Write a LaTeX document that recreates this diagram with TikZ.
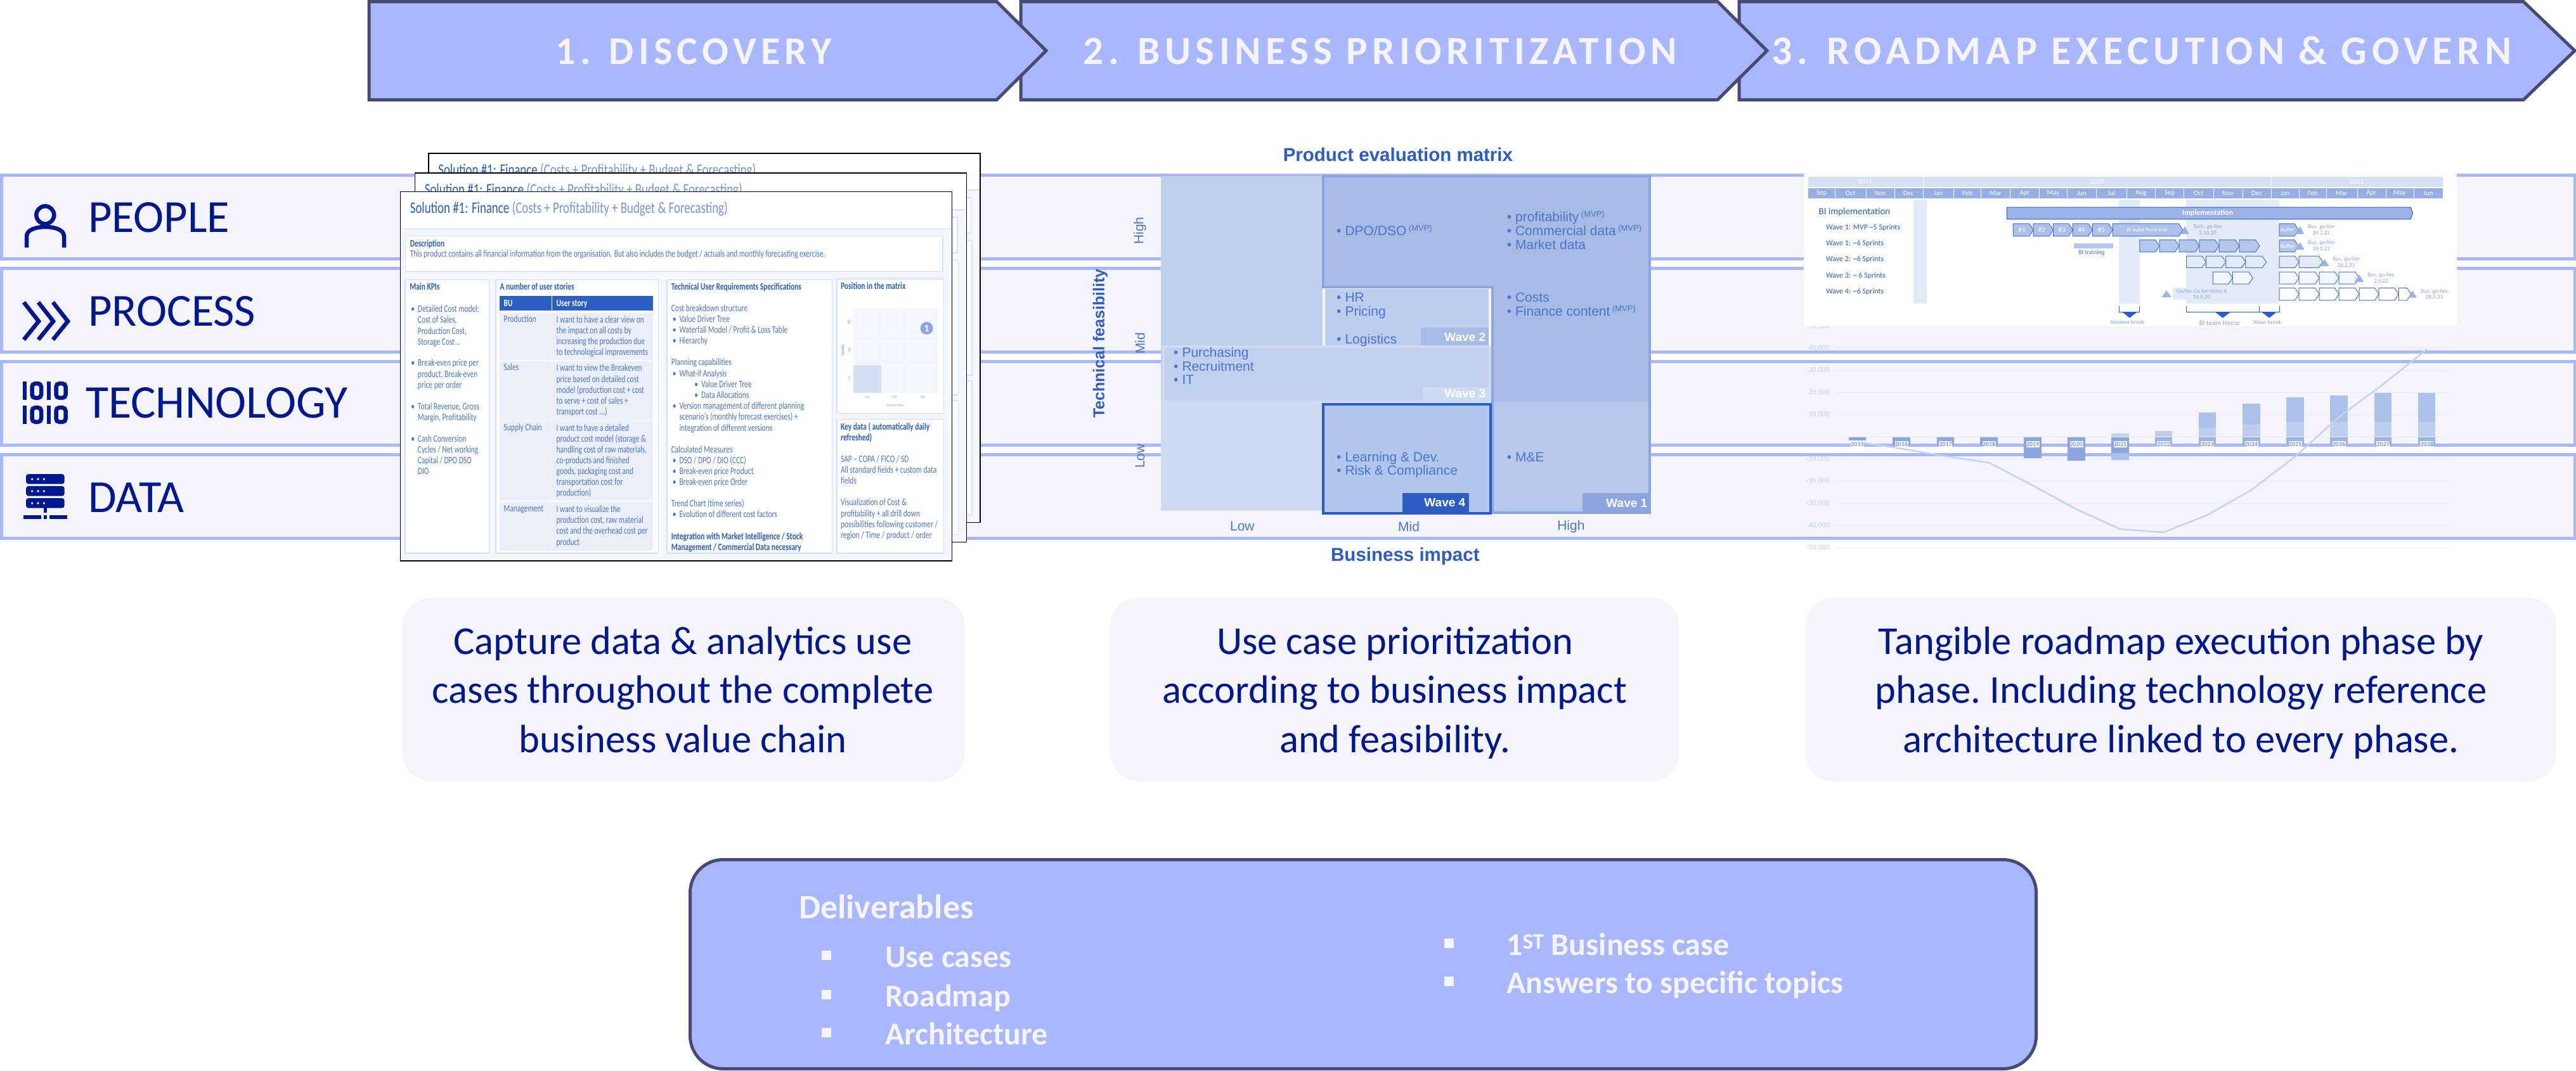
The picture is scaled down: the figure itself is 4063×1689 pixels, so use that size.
\documentclass[tikz,border=0pt]{standalone}
\usepackage{fontspec}
\setmainfont{Carlito}
\newfontfamily\arialfont{Liberation Sans}
\newfontfamily\docfont[FakeStretch=0.74]{Carlito}
\newfontfamily\stepfont[LetterSpace=12]{Carlito}

\definecolor{navy}{HTML}{00188F}
\definecolor{bandline}{HTML}{A9B7FF}
\definecolor{bandfill}{HTML}{F4F4FA}
\definecolor{slate}{HTML}{474B72}
\definecolor{royal}{HTML}{2B5DC5}
\definecolor{midblue}{HTML}{4A75CC}
\definecolor{softblue}{HTML}{8AA5E0}
\definecolor{pale}{HTML}{C4D3F0}
\definecolor{tint}{HTML}{E3EAF8}
\definecolor{docbody}{HTML}{F4F6FD}
\definecolor{docrule}{HTML}{D6E0F5}
\definecolor{cellupper}{HTML}{BFD0EE}
\definecolor{celllower}{HTML}{CEDAF2}
\definecolor{waveone}{HTML}{A7BBE5}
\definecolor{waveonelow}{HTML}{B7C8EC}
\definecolor{wavetwo}{HTML}{BCCDEE}
\definecolor{wavethree}{HTML}{C0D0EE}
\definecolor{wavethreeline}{HTML}{CFDBF3}
\definecolor{wavefour}{HTML}{B3C6EB}

\newcommand{\px}[1]{\fontsize{#1}{#1}\selectfont}
\newcommand{\docbul}{\llap{\textbullet\hspace{5pt}}}
\newcommand{\matbul}{\llap{\textbullet\hspace{6pt}}}
\newcommand{\mvp}{\,\raisebox{7pt}{\px{13}(MVP)}}

% one sheet of the stack, without its text
\newcommand{\docsheet}[2]{
  \begin{scope}[shift={(#1,#2)},doc_scale]
    \draw[line width=1.5pt,fill=docbody] (52,127) rectangle (1488,1532);
    \fill[white] (54,129) rectangle (1486,265);
    \draw[doc_panel] (54,266) -- (1486,266);
    \node[doc_title] at (77,192) {\textcolor{royal}{Solution \#1: Finance} (Costs + Profitability + Budget \& Forecasting)};
    \draw[doc_panel] (65,296) rectangle (1464,430);
    \draw[doc_panel] (1188,458) rectangle (1466,971);
    \draw[doc_panel] (1188,992) rectangle (1466,1503);
  \end{scope}
}
\newcommand{\wavetag}[6]{
  \fill[#5] (#1,#3) rectangle (#2,#4);
  \node[wave_text] at ({#2-8},{(#3+#4)/2}) {#6};
}
\newcommand{\sprint}[5]{
  \draw[sprint_box,fill=#5] (#1,#3) -- ({#2-8},#3) -- (#2,{(#3+#4)/2}) -- ({#2-8},#4) -- (#1,#4) -- cycle;
}
\newcommand{\gtri}[5]{
  \fill[#5] (#1,#4) -- (#2,#4) -- ({(#1+#2)/2},#3) -- cycle;
}
\newcommand{\golive}[5]{
  \node[gantt_small] at (#1,#2) {#4};
  \node[gantt_small] at (#1,#3) {#5};
}
\newcommand{\usecard}[6]{
  \node[use_card,minimum width=#2] (#1) at (#3,1088) {};
  \node[use_text] at (#4,1032) {#5};
  \node[use_text] at (#4,1109) {#6};
}

\begin{document}
\begin{tikzpicture}[x=1pt,y=-1pt,
    band_box/.style={draw=bandline,fill=bandfill,line width=5pt},
    band_text/.style={anchor=base west,inner sep=0pt,text=navy,font=\px{72.5}},
    icon_line/.style={draw=navy,line width=6.5pt},
    step_arrow/.style={draw=slate,fill=bandline,line width=5pt},
    step_text/.style={anchor=base,inner sep=0pt,text=bandfill,font=\stepfont\bfseries\px{62}},
    doc_scale/.style={shift={(600,250)},x=0.6059pt,y=-0.4146pt},
    doc_panel/.style={draw=docrule,fill=white,line width=1.5pt},
    doc_title/.style={anchor=west,inner sep=0pt,text=royal!65,font=\docfont\px{25.5}},
    doc_text/.style={anchor=west,inner sep=0pt,text height=10pt,text depth=3pt,text=midblue,font=\docfont\px{15.5}},
    doc_bold/.style={doc_text,text=royal,font=\docfont\bfseries\px{15.5}},
    doc_tiny/.style={inner sep=0pt,text=softblue,font=\docfont\px{6}},
    mat_scale/.style={shift={(1680,200)},x=0.6378pt,y=-0.4591pt},
    mat_head/.style={inner sep=0pt,text=royal,font=\arialfont\bfseries\px{29.5}},
    mat_text/.style={anchor=west,inner sep=0pt,text height=17pt,text depth=2pt,text=midblue,font=\arialfont\px{21}},
    mat_axis/.style={inner sep=0pt,text=midblue,font=\arialfont\px{21}},
    wave_text/.style={anchor=east,inner sep=0pt,text=white,font=\arialfont\bfseries\px{19}},
    chart_grid/.style={draw=tint,line width=1pt},
    chart_text/.style={anchor=east,inner sep=0pt,text=pale,font=\px{12}},
    year_tag/.style={fill=white,inner sep=0pt,minimum width=21pt,minimum height=10pt,text=midblue,font=\px{10}},
    gantt_scale/.style={shift={(2780,250)},x=0.8183pt,y=-0.4146pt},
    gantt_text/.style={anchor=west,inner sep=0pt,text=royal,font=\px{12}},
    gantt_small/.style={inner sep=0pt,text=softblue,font=\px{9}},
    gantt_white/.style={inner sep=0pt,text=white,font=\px{11}},
    sprint_box/.style={draw=midblue,line width=1pt},
    bracket_line/.style={draw=royal,line width=1pt},
    use_card/.style={fill=bandfill,rounded corners=45pt,minimum height=290pt,inner sep=0pt},
    use_text/.style={anchor=base,inner sep=0pt,text=navy,font=\frenchspacing\px{62.5}},
    deliver_box/.style={draw=slate,fill=bandline,line width=5pt,rounded corners=52pt,minimum width=2123pt,minimum height=330pt},
    deliver_text/.style={anchor=base west,inner sep=0pt,text=bandfill,font=\bfseries\px{50}},
    deliver_bul/.style={fill=bandfill,minimum size=15pt,inner sep=0pt}]
  \useasboundingbox (0,0) rectangle (4063,1689);

  % rows
  \foreach \A/\B in {276.5/408,423.5/555,570.5/702,717/849}
    \draw[band_box] (2.5,\A) rectangle (4061,\B);
  \node[band_text] (people) at (139,366) {PEOPLE};
  \node[band_text] (process) at (139,514) {PROCESS};
  \node[band_text,font=\px{74}] (technology) at (135,659) {TECHNOLOGY};
  \node[band_text] (data) at (139,808) {DATA};

  % people icon
  \draw[icon_line] (71.3,339.3) circle (14);
  \draw[icon_line] (42,390.7) -- (42,373) .. controls (42,362) and (58,358) .. (71.5,358)
    .. controls (85,358) and (101,362) .. (101,373) -- (101,390.7);
  % process icon
  \foreach \X in {37.5,60.5,83.5}
    \draw[icon_line] (\X,477) -- ({\X+23.5},507) -- (\X,536);
  % technology icon
  \foreach \Y in {602,640} {
    \fill[navy] (36,\Y) rectangle (42.3,{\Y+29});
    \fill[navy] (74,\Y) rectangle (80.3,{\Y+29});
    \draw[icon_line,rounded corners=5pt] (50.5,{\Y+3.2}) rectangle (65,{\Y+25.8});
    \draw[icon_line,rounded corners=5pt] (88.5,{\Y+3.2}) rectangle (103.5,{\Y+25.8});
  }
  % data icon
  \foreach \Y in {748,767,786} {
    \fill[navy,rounded corners=4pt] (41,\Y) rectangle (101.7,{\Y+15.7});
    \foreach \X in {50.7,60,69.3}
      \fill[white] (\X,{\Y+8}) circle (1.8);
  }
  \fill[navy] (68.7,801) rectangle (74.3,809);
  \fill[navy] (37.3,812.7) rectangle (64.7,818.7);
  \fill[navy] (68.7,812.7) rectangle (74.3,818.7);
  \fill[navy] (78.3,812.7) rectangle (105.7,818.7);

  % stack of sheets
  \docsheet{44.5}{-60.5}
  \docsheet{23}{-29.5}
  \docsheet{0}{0}
  \begin{scope}[doc_scale]
    \node[doc_bold] at (77,327) {Description};
    \node[doc_text] at (77,367) {This product contains all financial information from the organisation. But also includes the budget / actuals and monthly forecasting exercise.};
    \draw[doc_panel] (64,462) rectangle (283,1503);
    \draw[doc_panel] (300,462) rectangle (724,1503);
    \draw[doc_panel] (746,462) rectangle (1176,1503);

    \node[doc_bold] at (76,493) {Main KPIs};
    \foreach \Y/\T in {576/{\docbul Detailed Cost model:},618/{Cost of Sales,},660/{Production Cost,},701/{Storage Cost ..},
        782/{\docbul Break-even price per},825/{product, Break-even},866/{price per order},
        947/{\docbul Total Revenue, Gross},989/{Margin, Profitability},
        1072/{\docbul Cash Conversion},1113/{Cycles / Net working},1154/{Capital / DPO DSO},1194/{DIO}}
      \node[doc_text] at (97,\Y) {\T};

    \node[doc_bold] at (311,492) {A number of user stories};
    \fill[royal] (310,523) rectangle (446,580);
    \fill[royal] (448,523) rectangle (710,580);
    \node[doc_bold,text=white] at (321,554) {BU};
    \node[doc_bold,text=white] at (458,554) {User story};
    \foreach \A/\B/\T in {588/766/Production,771/995/Sales,999/1303/Supply Chain,1308/1492/Management} {
      \fill[tint!75] (310,\A) rectangle (446,\B);
      \fill[tint!75] (448,\A) rectangle (710,\B);
      \node[doc_text] at (321,{\A+28}) {\T};
    }
    \foreach \Y/\T in {617/{I want to have a clear view on},658/{the impact on all costs by},699/{increasing the production due},741/{to technological improvements},
        801/{I want to view the Breakeven},843/{price based on detailed cost},884/{model (production cost + cost},926/{to serve + cost of sales +},967/{transport cost ...)},
        1030/{I want to have a detailed},1071/{product cost model (storage \&},1112/{handling cost of raw materials,},1153/{co-products and finished},1195/{goods, packaging cost and},1236/{transportation cost for},1277/{production)},
        1339/{I want to visualize the},1380/{production cost, raw material},1421/{cost and the overhead cost per},1463/{product}}
      \node[doc_text] at (458,\Y) {\T};

    \node[doc_bold] at (757,492) {Technical User Requirements Specifications};
    \foreach \Y/\T in {574/{Cost breakdown structure},780/{Planning capabilities},1111/{Calculated Measures},1317/{Trend Chart (time series)}}
      \node[doc_text] at (757,\Y) {\T};
    \foreach \Y/\T in {616/{\docbul Value Driver Tree},657/{\docbul Waterfall Model / Profit \& Loss Table},698/{\docbul Hierarchy},822/{\docbul What-if Analysis},
        946/{\docbul Version management of different planning},987/{scenario’s (monthly forecast exercises) +},1030/{integration of different versions},
        1152/{\docbul DSO / DPO / DIO (CCC)},1193/{\docbul Break-even price Product},1236/{\docbul Break-even price Order},1358/{\docbul Evolution of different cost factors}}
      \node[doc_text] at (778,\Y) {\T};
    \foreach \Y/\T in {864/{\docbul Value Driver Tree},905/{\docbul Data Allocations}}
      \node[doc_text] at (835,\Y) {\T};
    \node[doc_bold] at (757,1442) {Integration with Market Intelligence / Stock};
    \node[doc_bold] at (757,1484) {Management / Commercial Data necessary};

    \node[doc_bold] at (1198,489) {Position in the matrix};
    \foreach \A/\B in {1231/1304,1306/1371,1373/1451}
      \foreach \C/\D in {571/675,678/783,786/892}
        \fill[docbody] (\A,\C) rectangle (\B,\D);
    \fill[docrule] (1231,786) rectangle (1304,892);
    \node[circle,fill=softblue,minimum size=20pt,inner sep=0pt,text=white,font=\bfseries\px{16}] (mark) at (1422,646) {1};
    \node[doc_tiny,rotate=90] at (1220,622) {High};
    \node[doc_tiny,rotate=90] at (1220,730) {Mid};
    \node[doc_tiny,rotate=90] at (1220,838) {Low};
    \node[doc_tiny,rotate=90] at (1204,730) {\bfseries Feasibility};
    \node[doc_tiny] at (1268,909) {Low};
    \node[doc_tiny] at (1338,909) {Mid};
    \node[doc_tiny] at (1411,909) {High};
    \node[doc_tiny] at (1341,940) {Business Value};

    \node[doc_bold] at (1198,1026) {Key data ( automatically daily};
    \node[doc_bold] at (1198,1066) {refreshed)};
    \foreach \Y/\T in {1149/{SAP – COPA / FICO / SD},1190/{All standard fields + custom data},1231/{fields},
        1313/{Visualization of Cost \&},1355/{profitability  + all drill down},1397/{possibilities following customer /},1438/{region / Time / product / order}}
      \node[doc_text] at (1198,\Y) {\T};
  \end{scope}

  % evaluation matrix
  \begin{scope}[mat_scale]
    \node[mat_head] (mat_title) at (823,95) {Product evaluation matrix};
    \node[mat_head] (mat_xlabel) at (841,1476) {Business impact};
    \node[mat_head,rotate=90,font=\arialfont\bfseries\px{25}] (mat_ylabel) at (87,745) {Technical feasibility};
    \fill[cellupper] (237,170) rectangle (636,945);
    \fill[celllower] (237,945) rectangle (636,1320);
    % wave 1
    \fill[waveone] (640,172) -- (1445,172) -- (1445,945) -- (1056,945) -- (1056,550) -- (640,550) -- cycle;
    \fill[waveonelow] (1056,945) rectangle (1445,1325);
    \draw[draw=softblue,line width=4pt] (638,551) -- (638,170) -- (1446,170) -- (1446,1327) -- (1056,1327) -- (1056,551) -- cycle;
    % wave 2
    \fill[wavetwo] (643,558) rectangle (1048,760);
    \wavetag{880}{1048}{690}{757}{waveone}{Wave 2}
    % wave 3
    \draw[draw=wavethreeline,fill=wavethree,line width=4pt] (243,755) rectangle (1050,945);
    \wavetag{884}{1048}{895}{940}{wavethreeline}{Wave 3}
    % wave 4
    \draw[draw=royal,fill=wavefour,line width=4pt] (638,953) rectangle (1052,1328);
    \wavetag{834}{998}{1260}{1325}{royal}{Wave 4}
    \wavetag{1280}{1448}{1260}{1330}{softblue}{Wave 1}

    \node[mat_text] at (692,358) {\matbul DPO/DSO\mvp};
    \node[mat_text] at (1113,310) {\matbul profitability\mvp};
    \node[mat_text] at (1113,358) {\matbul Commercial data\mvp};
    \node[mat_text] at (1113,405) {\matbul Market data};
    \node[mat_text] at (692,585) {\matbul HR};
    \node[mat_text] at (692,633) {\matbul Pricing};
    \node[mat_text] at (692,729) {\matbul Logistics};
    \node[mat_text] at (1113,585) {\matbul Costs};
    \node[mat_text] at (1113,633) {\matbul Finance content\mvp};
    \node[mat_text] at (289,775) {\matbul Purchasing};
    \node[mat_text] at (289,823) {\matbul Recruitment};
    \node[mat_text] at (289,870) {\matbul IT};
    \node[mat_text] at (692,1134) {\matbul Learning \& Dev.};
    \node[mat_text] at (692,1181) {\matbul Risk \& Compliance};
    \node[mat_text] at (1113,1134) {\matbul M\&E};
    \node[mat_axis] at (438,1374) {Low};
    \node[mat_axis] at (850,1374) {Mid};
    \node[mat_axis] at (1251,1374) {High};
    \node[mat_axis,rotate=90] at (185,357) {High};
    \node[mat_axis,rotate=90] at (185,744) {Mid};
    \node[mat_axis,rotate=90] at (185,1132) {Low};
  \end{scope}

  % cash flow chart
  \draw[chart_grid] (2895,689) -- (3862,689);
  \foreach \Y/\T in {514.5/50.000,549/40.000,584/30.000,619/20.000,654/10.000,724/-10.000,759/-20.000,794/-30.000,829/-40.000,864/-50.000} {
    \draw[chart_grid] (2895,\Y) -- (3862,\Y);
    \node[chart_text] at (2886,\Y) {\T};
  }
  \foreach \X/\A/\B in {2929.5/690/695,2999/690/703,3068.5/690/703,3137/690/703,3206/690/723,3275/690/727,3344/690/715}
    \fill[softblue] ({\X-13.7},\A) rectangle ({\X+13.7},\B);
  \foreach \X in {3412.7,3481.7,3551,3620,3689,3758.7,3827.7}
    \fill[softblue!85!white] ({\X-13.7},690) rectangle ({\X+13.7},702);
  \fill[pale] (3330.3,684) rectangle (3357.7,689);
  \fill[softblue!70!white] (3330.3,715) rectangle (3357.7,726);
  \fill[pale!90!softblue] (3399,680) rectangle (3426.4,689);
  \foreach \X/\A/\B in {3481.7/651/675,3551/637/670,3620/627/666,3689/624/666,3758.7/620/666,3827.7/620/666} {
    \fill[softblue!70!white] ({\X-13.7},\A) rectangle ({\X+13.7},\B);
    \fill[pale!90!softblue] ({\X-13.7},\B) rectangle ({\X+13.7},689);
  }
  \draw[draw=pale,line width=2.5pt] (2929.5,697) -- (2999,708) -- (3068.5,720) -- (3137,730) -- (3206,766) -- (3275,803.5)
    -- (3344,835) -- (3412.7,840) -- (3481.7,812.6) -- (3551,773) -- (3620,720.6) -- (3689,658) -- (3758.7,606.5) -- (3827.7,551);
  \foreach \X/\T in {2929.5/2015,2999/2016,3068.5/2017,3137/2018,3206/2019,3275/2020,3344/2021,3412.7/2022,3481.7/2023,3551/2024,3620/2025,3689/2026,3758.7/2027,3827.7/2028}
    \node[year_tag] at (\X,701) {\T};

  % roadmap panel
  \begin{scope}[gantt_scale]
    \fill[white] (79,35) rectangle (1338,638);
    \foreach \A/\B/\T in {87/309/2019,309/980/2020,980/1311/2021} {
      \draw[draw=white,fill=tint!85!softblue] (\A,68) rectangle (\B,110);
      \node[gantt_white] at ({(\A+\B)/2},88) {\T};
    }
    \foreach \A/\B/\T in {87/140/Sep,140/199/Oct,199/254/Nov,254/309/Dec,309/368/Jan,368/421/Feb,421/477/Mar,477/533/Apr,533/587/May,587/643/Jun,643/702/Jul,
        702/757/Aug,757/812/Sep,812/869/Oct,869/925/Nov,925/980/Dec,980/1034/Jan,1034/1086/Feb,1086/1146/Mar,1146/1201/Apr,1201/1255/May,1255/1311/Jun} {
      \draw[draw=white,fill=softblue!90!white] (\A,112) rectangle (\B,153);
      \node[gantt_white] at ({(\A+\B)/2},133) {\T};
    }
    \fill[tint] (291,156) rectangle (316,552);
    \fill[tint] (687,156) rectangle (727,552);
    \fill[tint] (816,156) rectangle (996,552);

    \node[gantt_text,font=\px{15}] at (108,203) {BI implementation};
    \foreach \Y/\T in {264/{Wave 1: MVP \textasciitilde5 Sprints},325/{Wave 1: \textasciitilde6 Sprints},385/{Wave 2: \textasciitilde6 Sprints},447/{Wave 3: \textasciitilde\ 6 Sprints},507/{Wave 4:  \textasciitilde6 Sprints}}
      \node[gantt_text] at (122,\Y) {\T};

    \draw[draw=royal,fill=softblue!85!white,line width=1pt] (471,186) -- (1249,186) -- (1253,208) -- (1249,231) -- (471,231) -- cycle;
    \node[gantt_white,font=\bfseries\px{12}] (impl) at (858,208) {Implementation};

    \foreach \A/\B in {483/522,522/560,560/598,598/636,636/675,675/810,996/1033} {
      \sprint{\A}{\B}{248}{296}{softblue!70!white}
    }
    \foreach \X/\T in {500/\#1,538/\#2,577/\#3,615/\#4,653/\#5}
      \node[gantt_white] at (\X,272) {\T};
    \node[gantt_white,font=\px{9}] at (741,272) {BI build front-end};
    \node[gantt_white,font=\px{9}] at (1012,272) {Buffer};
    \gtri{806}{822}{258}{288}{softblue!85!white}
    \gtri{1028}{1044}{258}{288}{softblue!85!white}
    \golive{858}{262}{283}{Tech. go-live}{2.10.20}
    \golive{1077}{262}{283}{Bus. go-live}{29.1.21}

    \foreach \A/\B in {727/765,765/803,803/842,842/880,880/919,919/958,996/1033} {
      \sprint{\A}{\B}{310}{356}{softblue!62!white}
    }
    \node[gantt_white,font=\px{9}] at (1012,334) {Buffer};
    \gtri{1028}{1044}{319}{347}{softblue!85!white}
    \golive{1077}{322}{344}{Bus. go-live}{29.1.21}
    \fill[softblue!62!white] (600,323) rectangle (676,342);
    \node[gantt_small,text=midblue,font=\px{10}] at (634,360) {BI training};

    \foreach \A/\B in {817/855,855/893,893/931,931/971,996/1034,1034/1080} {
      \sprint{\A}{\B}{372}{416}{tint}
    }
    \gtri{1075}{1092}{384}{410}{softblue!85!white}
    \golive{1125}{384}{406}{Bus. go-live}{26.2.21}

    \foreach \A/\B in {868/906,906/945,996/1034,1034/1073,1073/1111,1111/1150} {
      \sprint{\A}{\B}{432}{478}{docbody}
    }
    \gtri{1141}{1159}{442}{470}{softblue!85!white}
    \golive{1192}{444}{466}{Bus. go-live}{2.4.21}

    \foreach \A/\B in {996/1034,1034/1073,1073/1111,1111/1150,1150/1188,1188/1226,1226/1250} {
      \sprint{\A}{\B}{493}{540}{white}
    }
    \gtri{1244}{1261}{503}{530}{softblue!85!white}
    \golive{1295}{506}{528}{Bus. go-live}{28.5.21}
    \fill[tint] (791,492) rectangle (816,538);
    \gtri{769}{788}{503}{528}{softblue!85!white}
    \golive{846}{505}{527}{Go/No-Go for Wave 4}{14.9.20}

    \draw[bracket_line] (687,562) -- (687,584) -- (727,584) -- (727,562);
    \draw[bracket_line] (817,562) -- (817,584) -- (996,584) -- (996,562);
    \draw[bracket_line] (958,562) -- (958,584);
    \fill[royal] (694,586) -- (721,586) -- (707.5,607) -- cycle;
    \fill[royal] (873,586) -- (901,586) -- (887,607) -- cycle;
    \fill[royal] (963,586) -- (990,586) -- (976.5,607) -- cycle;
    \node[gantt_small] at (703,624) {Summer break};
    \node[gantt_small,font=\px{11}] at (881,626) {BI team freeze};
    \node[gantt_small] at (973,624) {Xmas break};
  \end{scope}

  % steps, last one first so that each tip lies on the next step
  \draw[step_arrow] (2743,2.5) -- (3980,2.5) -- (4061,80) -- (3980,157.5) -- (2743,157.5) -- cycle;
  \draw[step_arrow] (1610,2.5) -- (2709,2.5) -- (2787,80) -- (2709,157.5) -- (1610,157.5) -- cycle;
  \draw[step_arrow] (582,2.5) -- (1572,2.5) -- (1650,80) -- (1572,157.5) -- (582,157.5) -- cycle;
  \node[step_text] (step1) at (1094,101) {1. DISCOVERY};
  \node[step_text,font=\stepfont\bfseries\px{63}] (step2) at (2177,101) {2. BUSINESS PRIORITIZATION};
  \node[step_text,font=\stepfont\bfseries\px{64}] (step3) at (3378,101) {3. ROADMAP EXECUTION \& GOVERN};

  % texts below the pictures
  \usecard{card1}{887pt}{1078.5}{1077}{Capture data \& analytics use}{cases throughout the complete}
  \node[use_text] at (1077,1187) {business value chain};
  \usecard{card2}{897pt}{2199.5}{2200}{Use case prioritization}{according to business impact}
  \node[use_text] at (2200,1187) {and feasibility.};
  \usecard{card3}{1185pt}{3439.5}{3440}{Tangible roadmap execution phase by}{phase. Including technology reference}
  \node[use_text] at (3440,1187) {architecture linked to every phase.};

  % deliverables
  \node[deliver_box] (deliverables) at (2150,1521.5) {};
  \node[deliver_text,font=\bfseries\px{54}] at (1260,1449) {Deliverables};
  \foreach \Y/\T in {1526/Use cases,1588/Roadmap,1648/Architecture} {
    \node[deliver_bul] at (1303,{\Y-19}) {};
    \node[deliver_text] at (1396,\Y) {\T};
  }
  \foreach \Y/\T in {1507/1\textsuperscript{ST} Business case,1567/Answers to specific topics} {
    \node[deliver_bul] at (2285,{\Y-19}) {};
    \node[deliver_text] at (2376,\Y) {\T};
  }
\end{tikzpicture}
\end{document}
